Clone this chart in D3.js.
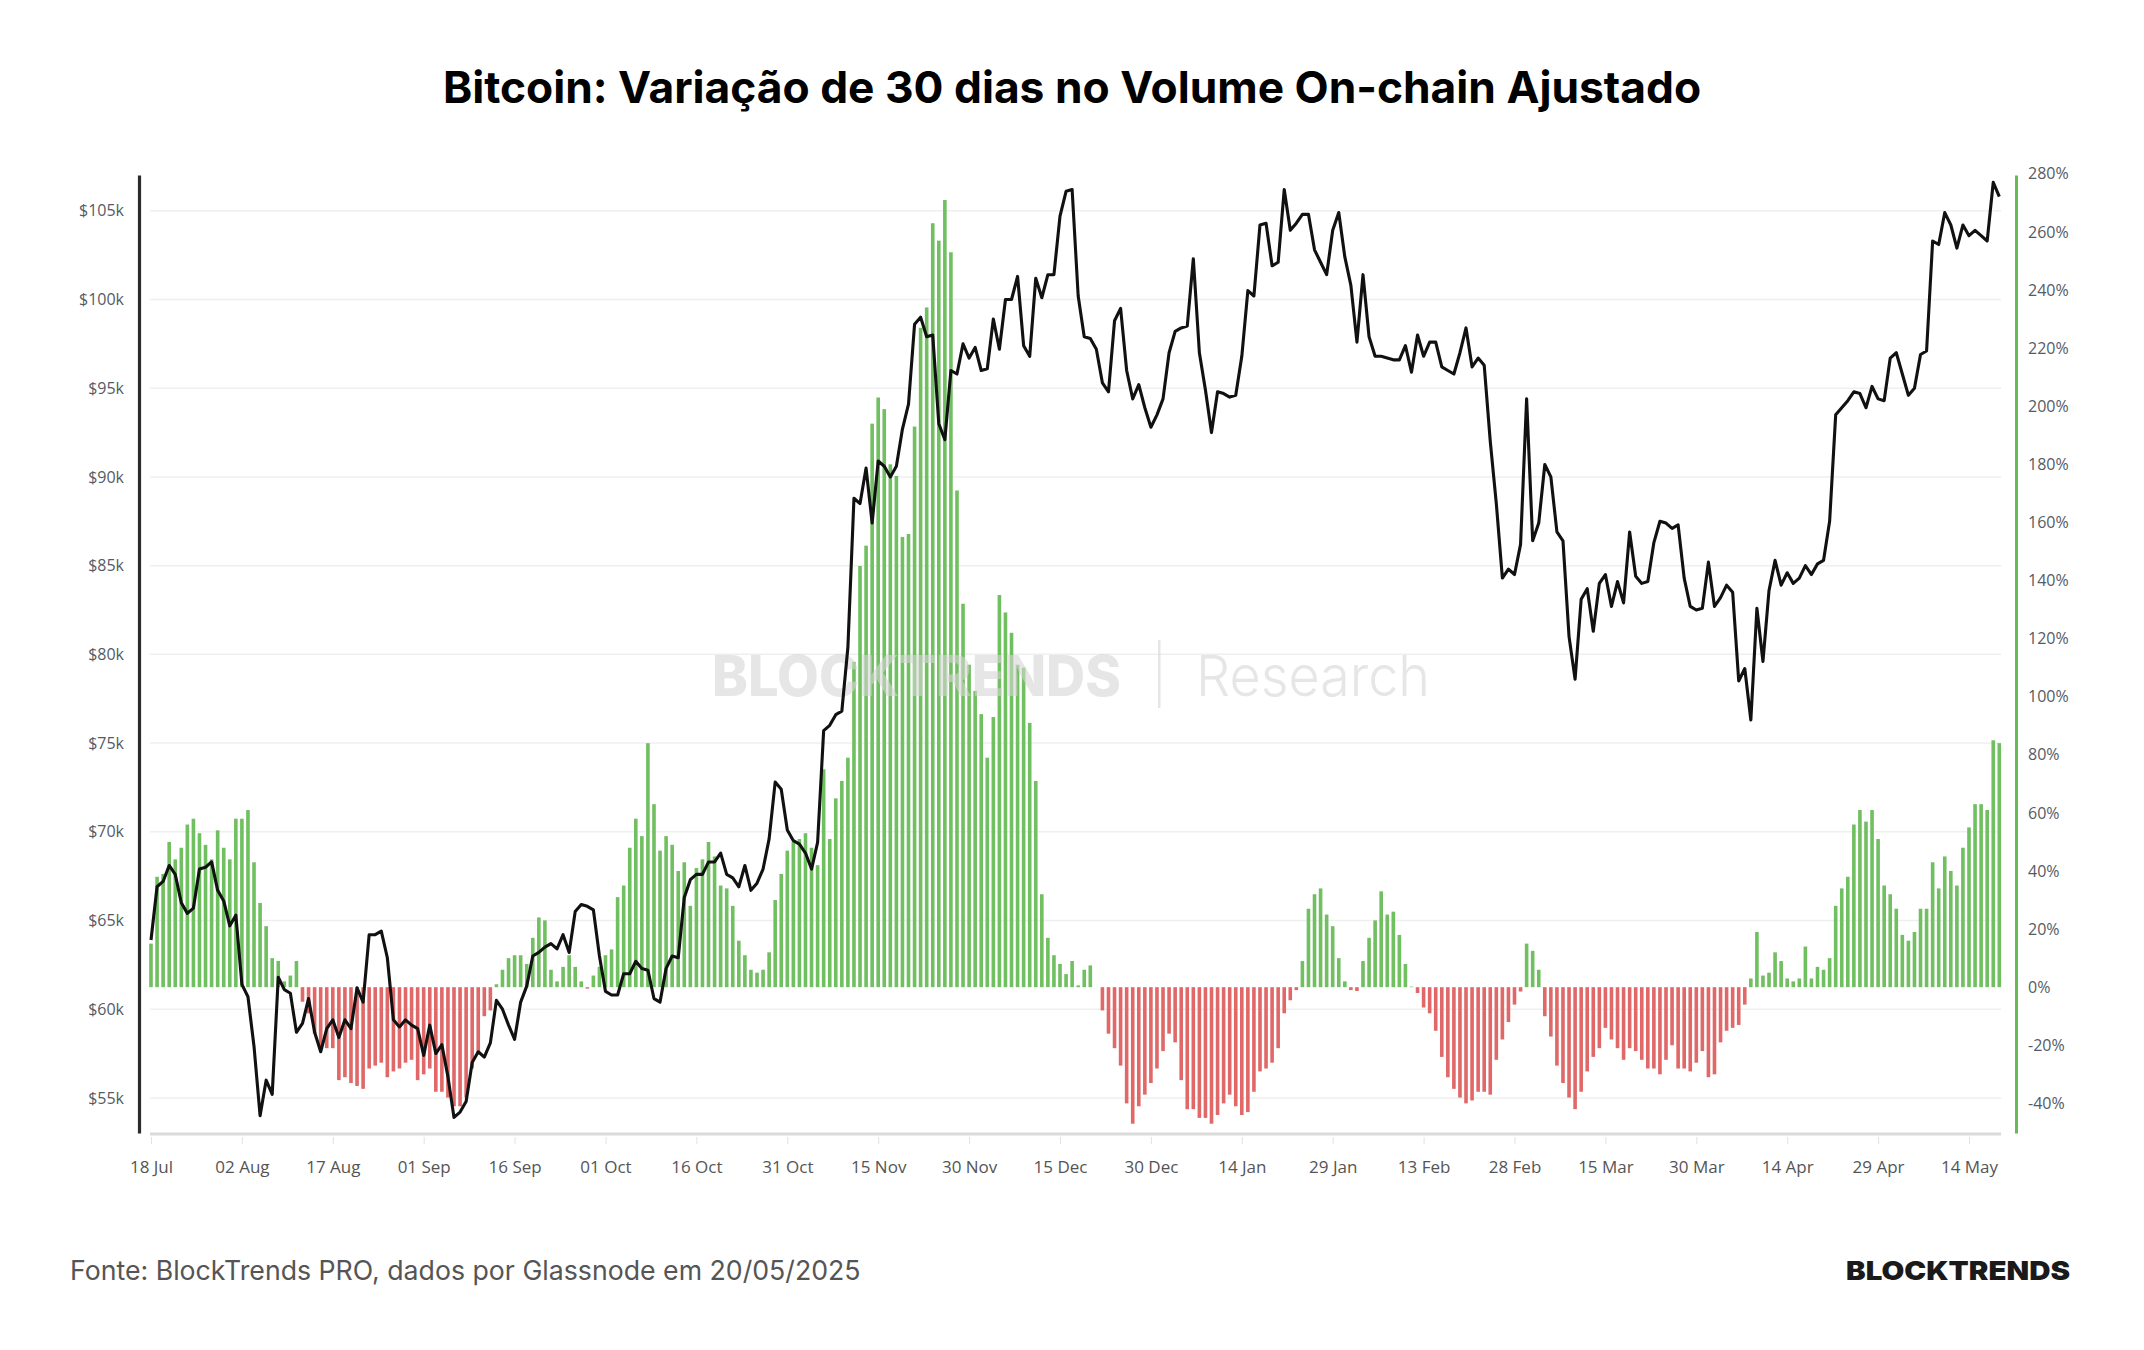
<!DOCTYPE html>
<html>
<head>
<meta charset="utf-8">
<script src="https://cdn.jsdelivr.net/npm/d3@7"></script>
<style>
  body { margin: 0; background: #fff; }
  svg { display: block; }
</style>
</head>
<body>
<svg id="chart" width="2144" height="1350"></svg>
<script>

// first day of both series, one value per day after it
const startDate = "2024-07-18";

const xTickDates = ["2024-07-18", "2024-08-02", "2024-08-17", "2024-09-01", "2024-09-16",
    "2024-10-01", "2024-10-16", "2024-10-31", "2024-11-15", "2024-11-30", "2024-12-15",
    "2024-12-30", "2025-01-14", "2025-01-29", "2025-02-13", "2025-02-28", "2025-03-15",
    "2025-03-30", "2025-04-14", "2025-04-29", "2025-05-14"];

const priceTicks = [55, 60, 65, 70, 75, 80, 85, 90, 95, 100, 105];
const changeTicks = [-40, -20, 0, 20, 40, 60, 80, 100, 120, 140, 160, 180, 200, 220, 240, 260, 280];

// BTC price, thousands of USD
const priceK = [
    // jul
    63.9, 66.9, 67.2, 68.1, 67.6, 66.0, 65.4, 65.7, 67.9, 68.0, 68.3, 66.7, 66.1, 64.7,
    // aug
    65.3, 61.4, 60.7, 57.9, 54.0, 56.0, 55.2, 61.8, 61.1, 60.9, 58.7, 59.2, 60.6, 58.7, 57.6, 58.9,
    59.4, 58.4, 59.4, 58.9, 61.2, 60.4, 64.2, 64.2, 64.4, 62.9, 59.4, 59.0, 59.4, 59.1, 58.9,
    // sep
    57.4, 59.1, 57.5, 58.0, 56.2, 53.9, 54.2, 54.8, 57.0, 57.6, 57.3, 58.1, 60.5, 60.0, 59.1,
    58.3, 60.4, 61.3, 63.0, 63.2, 63.5, 63.7, 63.4, 64.2, 63.2, 65.5, 65.9, 65.8, 65.6, 63.0,
    // oct
    61.0, 60.8, 60.8, 62.0, 62.0, 62.7, 62.3, 62.2, 60.6, 60.4, 62.3, 63.0, 62.9, 66.3, 67.3,
    67.6, 67.6, 68.3, 68.3, 68.8, 67.6, 67.4, 66.9, 68.1, 66.7, 67.1, 67.9, 69.6, 72.8, 72.4, 70.1,
    // nov
    69.5, 69.3, 68.8, 67.9, 69.4, 75.7, 76.0, 76.6, 76.8, 80.4, 88.8, 88.5, 90.5, 87.4, 90.9,
    90.6, 90.0, 90.6, 92.7, 94.1, 98.6, 99.0, 97.9, 98.0, 93.0, 92.1, 96.0, 95.8, 97.5, 96.7,
    // dec
    97.3, 96.0, 96.1, 98.9, 97.2, 100.0, 100.0, 101.3, 97.4, 96.8, 101.2, 100.1, 101.4, 101.4, 104.7,
    106.1, 106.2, 100.2, 97.9, 97.8, 97.2, 95.3, 94.8, 98.8, 99.5, 96.0, 94.4, 95.2, 93.9, 92.8, 93.5,
    // jan
    94.4, 97.0, 98.2, 98.4, 98.5, 102.3, 97.0, 94.9, 92.5, 94.8, 94.7, 94.5, 94.6, 96.8, 100.5,
    100.2, 104.2, 104.3, 101.9, 102.1, 106.2, 103.9, 104.3, 104.8, 104.8, 102.8, 102.1, 101.4, 103.9, 104.9, 102.4,
    // feb
    100.8, 97.6, 101.4, 97.9, 96.8, 96.8, 96.7, 96.6, 96.6, 97.4, 95.9, 98.0, 96.8, 97.6,
    97.6, 96.2, 96.0, 95.8, 97.0, 98.4, 96.2, 96.7, 96.3, 92.0, 88.5, 84.3, 84.8, 84.5,
    // mar
    86.2, 94.4, 86.4, 87.4, 90.7, 90.0, 86.9, 86.4, 81.0, 78.6, 83.1, 83.7, 81.3, 84.0, 84.5,
    82.7, 84.1, 82.9, 86.9, 84.4, 84.0, 84.1, 86.3, 87.5, 87.4, 87.1, 87.3, 84.3, 82.7, 82.5, 82.6,
    // apr
    85.2, 82.7, 83.2, 83.9, 83.5, 78.5, 79.2, 76.3, 82.6, 79.6, 83.6, 85.3, 83.9, 84.6, 84.0,
    84.3, 85.0, 84.5, 85.1, 85.3, 87.5, 93.5, 93.9, 94.3, 94.8, 94.7, 93.9, 95.1, 94.4, 94.3,
    // may
    96.7, 97.0, 95.8, 94.6, 95.0, 96.9, 97.1, 103.3, 103.1, 104.9, 104.2, 102.9, 104.2, 103.6,
    103.9, 103.6, 103.3, 106.6, 105.8
];

// 30 day change of adjusted on-chain volume, %
const volumeChange = [
    15, 38, 39, 50, 44, 48, 56, 58, 53, 49, 44, 54, 48, 44, 58, 58, 61, 43, 29, 21, 10, 9, 2, 4, 9,
    -5, -9, -16, -21, -21, -21, -32, -31, -33, -34, -35, -28, -27, -26, -31, -29, -28, -26, -25, -32,
    -30, -28, -36, -36, -38, -41, -41, -38, -28, -23, -10, -8,
    1, 6, 10, 11,
    11, 8, 17, 24, 23, 6, 2, 7, 11, 7, 2, -0.5, 4, 7, 11, 13, 31, 35, 48, 58, 52, 84, 63, 47, 52,
    49, 40, 43, 28, 41, 44, 50, 45, 35, 34, 28, 16, 11, 6, 5, 6, 12, 30, 39, 47, 50, 51, 53, 48, 42,
    75, 51, 65, 71, 79, 112, 145, 152, 194, 203, 199,
    180, 176, 155, 156, 193, 227, 234, 263, 257, 271, 253, 171, 132, 111, 102, 94, 79, 93, 135, 129,
    122, 111, 110, 91, 71, 32, 17, 11, 8, 4.5, 9, 0.6, 6, 7.5, 0,
    -8, -16, -21, -27, -40, -47, -41, -37, -33, -28, -22, -16, -19, -32, -42, -42, -45, -45, -47, -44,
    -40, -37, -41, -44, -43, -36,
    -29, -28, -26, -21, -9, -4.5, -1, 9, 27, 32, 34, 25, 21, 10, 2, -1, -1.3, 9, 17, 23, 33, 25, 26,
    18, 8, 0.2, -2, -7, -9, -15, -24, -31, -35, -38, -40, -39, -36, -36, -37, -25, -18, -12, -6, -1.5,
    15, 12.5, 6, -10, -17, -27, -33, -38, -42, -36, -29, -24, -21, -14, -18, -21, -25,
    -21, -22, -25, -28, -28, -30, -25, -20, -28, -28, -29, -26, -22, -31, -30, -19, -15, -14, -13, -6,
    3, 19, 4, 5, 12, 9, 3, 2, 3, 14, 3, 7, 6, 10, 28, 34, 38, 56, 61, 57, 61, 51, 35, 32, 27, 18, 16,
    19, 27, 27, 43, 34, 45, 40, 35, 48, 55, 63, 63, 61, 85, 84
];


let svg = d3.select("#chart");
let parseDay = d3.utcParse("%Y-%m-%d");
let first = parseDay(startDate);

let data = priceK.map((p, i) => ({
    date: d3.utcDay.offset(first, i),
    price: p,
    change: volumeChange[i]
}));

let plotLeft = 151, plotRight = 1999.3, plotTop = 175, plotBottom = 1133;

let xScale = d3.scaleUtc()
    .domain([first, data[data.length - 1].date])
    .range([plotLeft, plotRight]);
let yPrice = d3.scaleLinear()
    .domain([53.022, 107.018])
    .range([plotBottom, plotTop]);
let yChange = d3.scaleLinear()
    .domain([-50.2, 279.6])
    .range([plotBottom, plotTop]);

const labelFont = "'Open Sans', 'DejaVu Sans', sans-serif";

// title
svg.append("text")
    .attr("x", 1072).attr("y", 103)
    .attr("text-anchor", "middle")
    .style("font-family", "Inter, sans-serif")
    .style("font-weight", 700)
    .style("font-size", "44.3px")
    .style("fill", "#000")
    .text("Bitcoin: Variação de 30 dias no Volume On-chain Ajustado");

// grid
svg.append("g").selectAll("line")
    .data(priceTicks)
    .enter().append("line")
    .attr("x1", 150).attr("x2", 2001)
    .attr("y1", d => yPrice(d)).attr("y2", d => yPrice(d))
    .style("stroke", "#efefef")
    .style("stroke-width", 1.5);

// bars
let barW = 3.6;
svg.append("g").selectAll("rect")
    .data(data)
    .enter().append("rect")
    .attr("x", d => xScale(d.date) - barW / 2)
    .attr("width", barW)
    .attr("y", d => d.change >= 0 ? yChange(d.change) : yChange(0))
    .attr("height", d => Math.abs(yChange(d.change) - yChange(0)))
    .style("fill", d => d.change >= 0 ? "#70bf60" : "#e06868");

// watermark
let wm = svg.append("g").style("opacity", 0.6).style("fill", "#d6d6d6");
wm.append("text")
    .attr("x", 1121).attr("y", 696)
    .attr("text-anchor", "end")
    .attr("textLength", 409)
    .attr("lengthAdjust", "spacingAndGlyphs")
    .style("font-family", "Inter, sans-serif")
    .style("font-weight", 800)
    .style("font-size", "56px")
    .text("BLOCKTRENDS");
wm.append("rect")
    .attr("x", 1158).attr("y", 640)
    .attr("width", 2.5).attr("height", 68);
wm.append("text")
    .attr("x", 1196).attr("y", 696)
    .attr("textLength", 234)
    .attr("lengthAdjust", "spacingAndGlyphs")
    .style("font-family", "Inter, sans-serif")
    .style("font-weight", 300)
    .style("font-size", "56px")
    .text("Research");

// price line
let line = d3.line()
    .x(d => xScale(d.date))
    .y(d => yPrice(d.price));
svg.append("path")
    .datum(data)
    .attr("d", line)
    .style("fill", "none")
    .style("stroke", "#111")
    .style("stroke-width", 3.1)
    .style("stroke-linejoin", "round");

// x axis
let xAxis = d3.axisBottom(xScale)
    .tickValues(xTickDates.map(parseDay))
    .tickFormat(d3.utcFormat("%d %b"))
    .tickSizeInner(10)
    .tickSizeOuter(0)
    .tickPadding(17);
let gx = svg.append("g")
    .attr("transform", "translate(0,1134)")
    .call(xAxis);
gx.select(".domain")
    .attr("d", "M150,0H2001")
    .style("stroke", "#dadada")
    .style("stroke-width", 3);
gx.selectAll(".tick line").style("stroke", "#e2e2e2").attr("y1", 3);
gx.selectAll(".tick text")
    .style("font-family", labelFont)
    .style("font-size", "17px")
    .style("fill", "#555");

// left axis
let gy = svg.append("g")
    .attr("transform", "translate(139,0)")
    .call(d3.axisLeft(yPrice)
        .tickValues(priceTicks)
        .tickFormat(d => "$" + d + "k")
        .tickSize(0)
        .tickPadding(15));
gy.select(".domain").style("stroke", "#2b2b2b").style("stroke-width", 3.2);
gy.selectAll(".tick text")
    .style("font-family", labelFont)
    .style("font-size", "16px")
    .style("fill", "#555b66");

// right axis
let gr = svg.append("g")
    .attr("transform", "translate(2016,0)")
    .call(d3.axisRight(yChange)
        .tickValues(changeTicks)
        .tickFormat(d => d + "%")
        .tickSize(0)
        .tickPadding(12));
gr.select(".domain").style("stroke", "#66bb55").style("stroke-width", 3);
gr.selectAll(".tick text")
    .style("font-family", labelFont)
    .style("font-size", "16px")
    .style("fill", "#555b66");

// footer
svg.append("text")
    .attr("x", 70).attr("y", 1280)
    .style("font-family", "Inter, sans-serif")
    .style("font-size", "26.7px")
    .style("fill", "#555")
    .text("Fonte: BlockTrends PRO, dados por Glassnode em 20/05/2025");

svg.append("text")
    .attr("x", 2070).attr("y", 1280)
    .attr("text-anchor", "end")
    .attr("textLength", 224)
    .attr("lengthAdjust", "spacingAndGlyphs")
    .style("font-family", "Inter, sans-serif")
    .style("font-weight", 900)
    .style("font-size", "26px")
    .style("fill", "#1a1a1a")
    .text("BLOCKTRENDS");

</script>
</body>
</html>
